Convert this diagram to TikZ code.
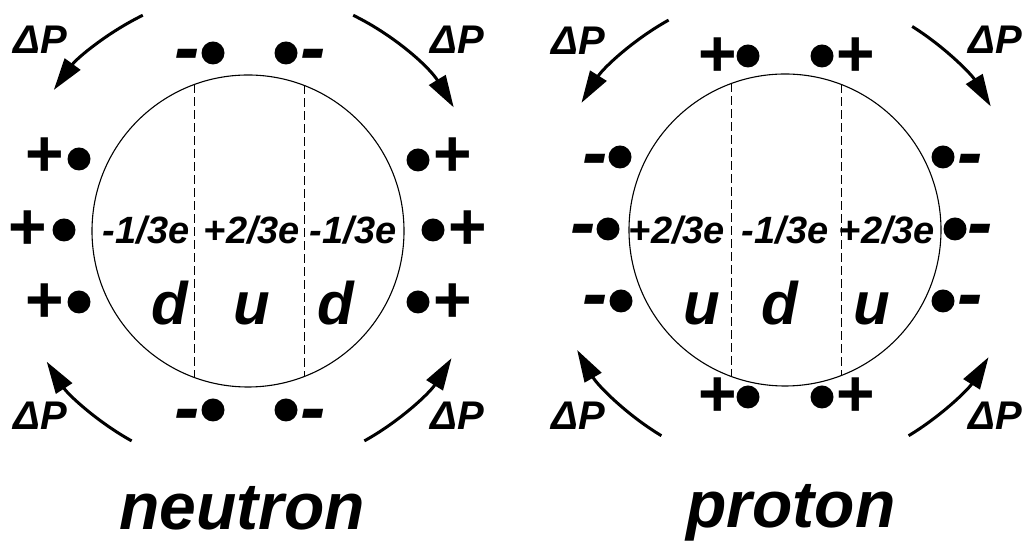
\documentclass[tikz,border=0pt]{standalone}
\usepackage{fontspec}
\newfontfamily\arialfont{Liberation Sans}
\usetikzlibrary{arrows.meta}

\tikzset{
  quarkbag/.style={circle,draw,line width=1.1pt,minimum size=312pt,inner sep=0pt,outer sep=0pt},
  divider/.style={dash pattern=on 9pt off 4pt,line width=0.7pt},
  qcharge/.style={font=\arialfont\bfseries\itshape\fontsize{38}{38}\selectfont},
  flavour/.style={anchor=base,font=\arialfont\bfseries\itshape\fontsize{60}{60}\selectfont},
  dplabel/.style={font=\arialfont\bfseries\itshape\fontsize{40}{40}\selectfont},
  pdot/.style={circle,fill,inner sep=0pt,minimum size=23pt},
  plussign/.style={inner sep=0pt,font=\arialfont\bfseries\fontsize{66}{66}\selectfont},
  minussign/.style={inner sep=0pt,yshift=-7pt,font=\arialfont\bfseries\itshape\fontsize{76}{76}\selectfont},
  push/.style={-{Triangle[length=32pt,width=19pt]},line width=3pt},
  partname/.style={anchor=base,font=\arialfont\bfseries\itshape\fontsize{66}{66}\selectfont}
}

\begin{document}
\begin{tikzpicture}[x=1pt,y=1pt]
\useasboundingbox (0,0) rectangle (1026,548);

% neutron
\node[quarkbag] (n) at (248,317) {};
\draw[divider] (n.110.8) -- (n.-110.8);
\draw[divider] (n.69.2) -- (n.-69.2);

\node[qcharge] (nq1) at (146,318) {-1/3e};
\node[qcharge] (nq2) at (252,318) {+2/3e};
\node[qcharge] (nq3) at (353,318) {-1/3e};
\node[flavour] (nf1) at (170,223) {d};
\node[flavour] (nf2) at (252,223) {u};
\node[flavour] (nf3) at (336,223) {d};

\node[plussign] (nl1) at (45,391) {+};  \node[pdot] (nld1) at (79,389) {};
\node[plussign] (nl2) at (28,318) {+};  \node[pdot] (nld2) at (64,318) {};
\node[plussign] (nl3) at (45,245) {+};  \node[pdot] (nld3) at (79,246) {};
\node[pdot] (nrd1) at (418,388) {};  \node[plussign] (nr1) at (453,391) {+};
\node[pdot] (nrd2) at (433,318) {};  \node[plussign] (nr2) at (468,318) {+};
\node[pdot] (nrd3) at (418,246) {};  \node[plussign] (nr3) at (453,245) {+};
\node[minussign] (nt1) at (187,494) {-};  \node[pdot] (ntd1) at (213,495) {};
\node[pdot] (ntd2) at (286,495) {};  \node[minussign] (nt2) at (313,494) {-};
\node[minussign] (nb1) at (187,134) {-};  \node[pdot] (nbd1) at (213,138) {};
\node[pdot] (nbd2) at (286,138) {};  \node[minussign] (nb2) at (313,134) {-};

\draw[push] (n.center) ++(116:240) arc[start angle=116,end angle=144,radius=240];
\draw[push] (n.center) ++(64:240) arc[start angle=64,end angle=31,radius=240];
\draw[push] (n.center) ++(241:240) arc[start angle=241,end angle=213,radius=240];
\draw[push] (n.center) ++(299:240) arc[start angle=299,end angle=328,radius=240];
\node[dplabel] (ndp1) at (40,508) {ΔP};
\node[dplabel] (ndp2) at (457,508) {ΔP};
\node[dplabel] (ndp3) at (40,132) {ΔP};
\node[dplabel] (ndp4) at (457,132) {ΔP};

\node[partname] (nname) at (242,18) {neutron};

% proton
\node[quarkbag] (p) at (785,318) {};
\draw[divider] (p.110.8) -- (p.-110.8);
\draw[divider] (p.69.2) -- (p.-69.2);

\node[qcharge] (pq1) at (677,318) {+2/3e};
\node[qcharge] (pq2) at (785,318) {-1/3e};
\node[qcharge] (pq3) at (887,318) {+2/3e};
\node[flavour] (pf1) at (702,223) {u};
\node[flavour] (pf2) at (780,223) {d};
\node[flavour] (pf3) at (872,223) {u};

\node[plussign] (pt1) at (718,491) {+};  \node[pdot] (ptd1) at (748,492) {};
\node[pdot] (ptd2) at (822,492) {};  \node[plussign] (pt2) at (856,491) {+};
\node[plussign] (pb1) at (718,151) {+};  \node[pdot] (pbd1) at (748,151) {};
\node[pdot] (pbd2) at (822,151) {};  \node[plussign] (pb2) at (856,151) {+};
\node[minussign] (pl1) at (595,389) {-};  \node[pdot] (pld1) at (620,391) {};
\node[minussign] (pl2) at (583,319) {-};  \node[pdot] (pld2) at (608,319) {};
\node[minussign] (pl3) at (595,248) {-};  \node[pdot] (pld3) at (621,247) {};
\node[pdot] (prd1) at (943,391) {};  \node[minussign] (pr1) at (970,389) {-};
\node[pdot] (prd2) at (955,319) {};  \node[minussign] (pr2) at (980,319) {-};
\node[pdot] (prd3) at (943,247) {};  \node[minussign] (pr3) at (970,248) {-};

\draw[push] (p.center) ++(119:240) arc[start angle=119,end angle=148,radius=240];
\draw[push] (p.center) ++(58:240) arc[start angle=58,end angle=31,radius=240];
\draw[push] (p.center) ++(239:240) arc[start angle=239,end angle=210,radius=240];
\draw[push] (p.center) ++(301:240) arc[start angle=301,end angle=328,radius=240];
\node[dplabel] (pdp1) at (578,507) {ΔP};
\node[dplabel] (pdp2) at (995,508) {ΔP};
\node[dplabel] (pdp3) at (578,132) {ΔP};
\node[dplabel] (pdp4) at (995,132) {ΔP};

\node[partname] (pname) at (791,20) {proton};
\end{tikzpicture}
\end{document}
